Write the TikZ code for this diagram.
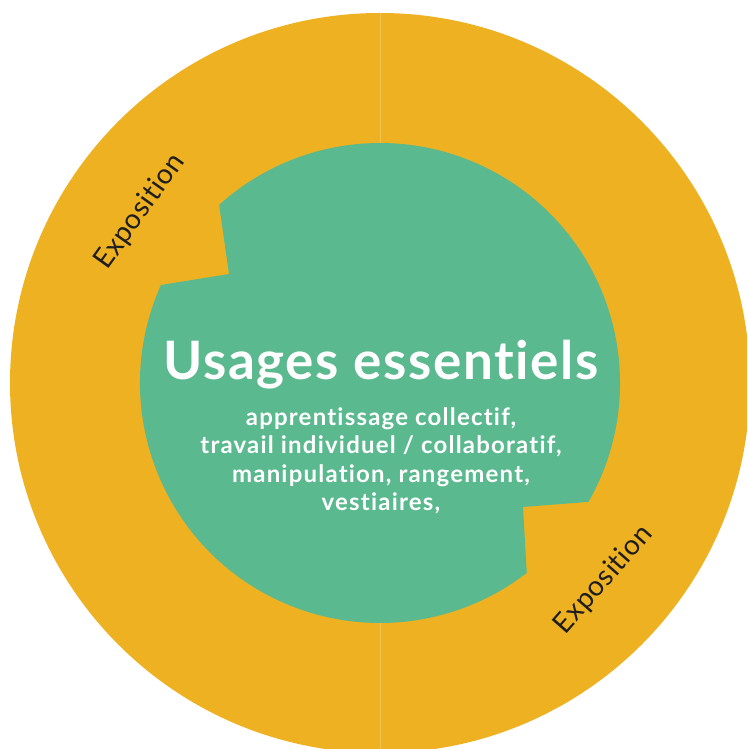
\documentclass[tikz,border=0pt]{standalone}
\usepackage{fontspec}
\setmainfont{Lato}[Ligatures=NoCommon]
\definecolor{ringorange}{HTML}{EEB122}
\definecolor{coregreen}{HTML}{5AB98E}
\definecolor{labeldark}{HTML}{1E1E1E}
\begin{document}
\begin{tikzpicture}[x=1pt,y=1pt,
  seam/.style={draw=ringorange!80!white,line width=0.8pt},
  titletext/.style={text=white,font=\fontsize{53}{60}\selectfont\bfseries\addfontfeature{LetterSpace=3,Ligatures=NoCommon},inner sep=0pt},
  subtext/.style={text=white,font=\fontsize{24}{28.5}\selectfont\bfseries\addfontfeature{LetterSpace=5,Ligatures=NoCommon},align=center,inner sep=0pt},
  ringlabel/.style={text=labeldark,font=\fontsize{28}{32}\selectfont\addfontfeature{LetterSpace=2,Ligatures=NoCommon},inner sep=0pt}]
\useasboundingbox (0,0) rectangle (747,749);
\clip (0,0) rectangle (747,749);
\coordinate (c) at (380,366);
\coordinate (ctop) at (380,736);
\coordinate (cbot) at (380,-4);
\fill[ringorange] (c) circle[radius=370pt];
\draw[seam] (ctop) -- (cbot);
\coordinate (notchA) at (229,475);
\coordinate (notchB) at (523,242);
\fill[coregreen] ([shift={(-29.7:240pt)}]c) arc[start angle=-29.7,end angle=132.1,radius=240pt]
  -- (notchA) -- ([shift={(155.9:240pt)}]c) arc[start angle=155.9,end angle=307.7,radius=240pt]
  -- (notchB) -- cycle;
\node[titletext,anchor=base] (title) at (381,369) {Usages essentiels};
\node[subtext,anchor=base] (uses) at (381,238) {apprentissage collectif,\\ travail individuel / collaboratif,\\ manipulation, rangement,\\ vestiaires,};
\node[ringlabel,rotate=54.5] (expoA) at ([shift={(144.5:295pt)}]c) {Exposition};
\node[ringlabel,rotate=48.7] (expoB) at ([shift={(-41.3:298pt)}]c) {Exposition};
\end{tikzpicture}
\end{document}
